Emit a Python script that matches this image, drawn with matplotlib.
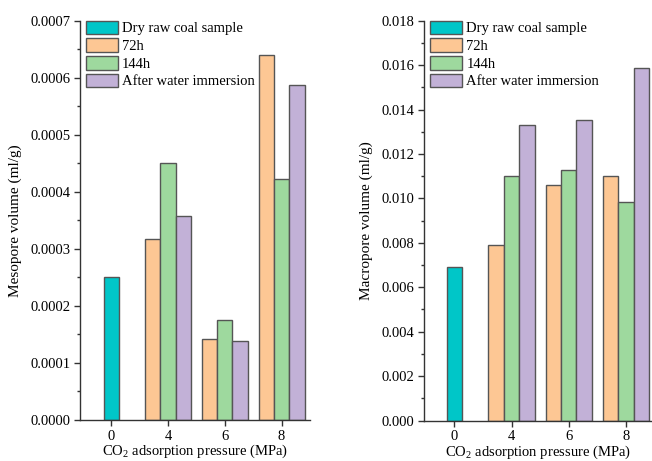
import matplotlib
matplotlib.use("Agg")
import matplotlib.pyplot as plt
import numpy as np
from matplotlib.ticker import MultipleLocator, FormatStrFormatter

plt.rcParams['font.family'] = ['Liberation Serif', 'DejaVu Serif']
plt.rcParams['mathtext.fontset'] = 'custom'
plt.rcParams['mathtext.rm'] = 'Liberation Serif'
plt.rcParams['mathtext.it'] = 'Liberation Serif:italic'

pressures = ['0', '4', '6', '8']
series_names = ['Dry raw coal sample', '72h', '144h', 'After water immersion']
colors = ['#00C6C8', '#FDC794', '#9ED99E', '#C2B1D7']

meso_dry = [0.00025]
meso_72h = [0.000317, 0.000142, 0.000640]
meso_144h = [0.000451, 0.000175, 0.000423]
meso_after = [0.000357, 0.000139, 0.000587]

macro_dry = [0.0069]
macro_72h = [0.0079, 0.0106, 0.0110]
macro_144h = [0.0110, 0.0113, 0.00985]
macro_after = [0.0133, 0.01355, 0.01587]

fig = plt.figure(figsize=(6.52, 4.61), dpi=100)
ax1 = fig.add_axes([80/652, 41/461, 230/652, 399.3/461])
ax2 = fig.add_axes([424.3/652, 40.5/461, (652-424.3)/652, 399.8/461])

w = 0.27
edge = '#555555'

def draw(ax, dry, s72, s144, safter, ymax, major, fmt, ylabel, xlim):
    x = np.arange(len(pressures))
    g = x[1:]
    ax.bar(x[:1], dry, w, color=colors[0], edgecolor=edge, linewidth=1.0, label=series_names[0])
    ax.bar(g - w, s72, w, color=colors[1], edgecolor=edge, linewidth=1.0, label=series_names[1])
    ax.bar(g, s144, w, color=colors[2], edgecolor=edge, linewidth=1.0, label=series_names[2])
    ax.bar(g + w, safter, w, color=colors[3], edgecolor=edge, linewidth=1.0, label=series_names[3])
    ax.set_xticks(x)
    ax.set_xticklabels(pressures)
    ax.set_xlim(*xlim)
    ax.set_ylim(0, ymax)
    ax.yaxis.set_major_locator(MultipleLocator(major))
    ax.yaxis.set_minor_locator(MultipleLocator(major / 2))
    ax.yaxis.set_major_formatter(FormatStrFormatter(fmt))
    for s in ['top', 'right']:
        ax.spines[s].set_visible(False)
    for s in ['left', 'bottom']:
        ax.spines[s].set_color('#333333')
        ax.spines[s].set_linewidth(1.0)
    ax.tick_params(axis='both', which='major', direction='out', length=4, width=1.0,
                   color='#333333', labelsize=10.5, pad=3)
    ax.tick_params(axis='y', which='minor', direction='out', length=2.5, width=1.0, color='#333333')
    ax.set_xlabel('CO$_2$ adsorption pressure (MPa)', fontsize=10.5, labelpad=0)
    ax.set_ylabel(ylabel, fontsize=11, labelpad=6)
    ax.legend(loc='upper left', bbox_to_anchor=(0.025, 1.0), frameon=False,
              fontsize=10.5, handlelength=2.2, handleheight=1.05,
              labelspacing=0.2, handletextpad=0.3, borderaxespad=0, borderpad=0)

draw(ax1, meso_dry, meso_72h, meso_144h, meso_after, 0.0007, 0.0001, '%.4f',
     'Mesopore volume (ml/g)', (-0.55, 3.5))
draw(ax2, macro_dry, macro_72h, macro_144h, macro_after, 0.018, 0.002, '%.3f',
     'Macropore volume (ml/g)', (-0.525, 3.456))

fig.savefig('out.png', dpi=100)
